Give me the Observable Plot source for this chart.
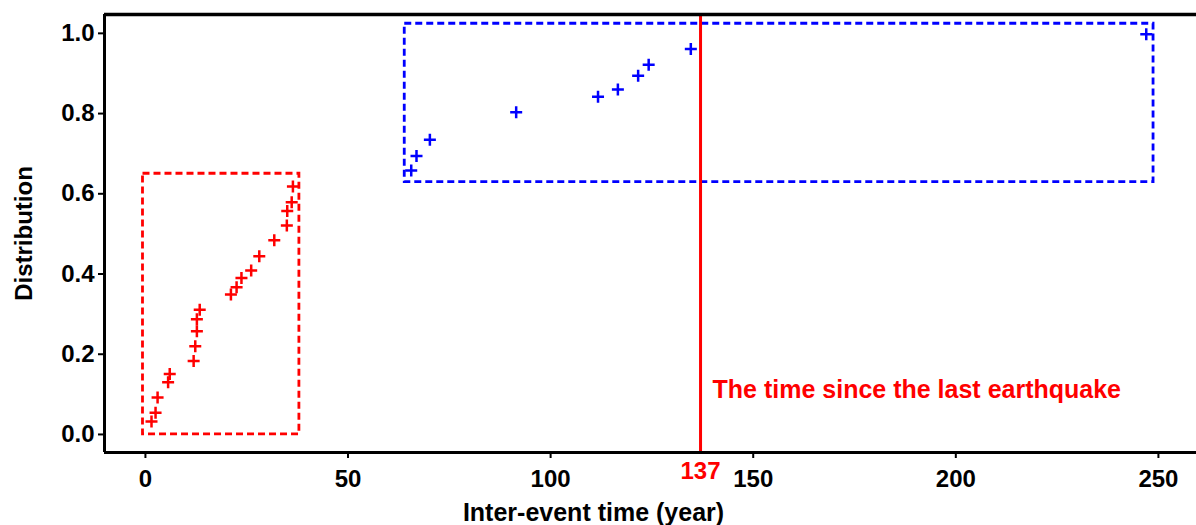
<!DOCTYPE html>
<html>
<head>
<meta charset="utf-8">
<script src="https://cdn.jsdelivr.net/npm/d3@7"></script>
<script src="https://cdn.jsdelivr.net/npm/@observablehq/plot@0.6"></script>
<style>
  html, body { margin: 0; padding: 0; background: #fff; }
</style>
</head>
<body>
<div id="chart"></div>
<script>
// ---- data ----
const redTime = [1.5, 2.5, 3.0, 5.6, 6.0, 11.9, 12.3, 12.7, 12.7, 13.4, 21.1, 22.5, 23.7, 26.1, 28.1, 31.8, 34.9, 35.0, 36.1, 36.4];
const redProb = [0.032, 0.054, 0.092, 0.130, 0.151, 0.183, 0.220, 0.257, 0.287, 0.311, 0.349, 0.367, 0.390, 0.409, 0.444, 0.484, 0.521, 0.557, 0.579, 0.618];
const blueTime = [65.6, 66.9, 70.2, 91.5, 111.7, 116.6, 121.6, 124.2, 134.6, 247.0];
const blueProb = [0.658, 0.694, 0.735, 0.803, 0.842, 0.860, 0.894, 0.922, 0.961, 0.998];
const redBox = {x1: -0.6, x2: 38.0, y1: 0.0, y2: 0.650};
const blueBox = {x1: 64.0, x2: 248.8, y1: 0.629, y2: 1.024};
const elapsed = [137];
const elapsedLabel = ["The time since the last earthquake"];
const xTitle = ["Inter-event time (year)"];
const yTitle = "Distribution";
const xTicks = [0, 50, 100, 150, 200, 250];
const yTicks = [0, 0.2, 0.4, 0.6, 0.8, 1.0];
const xDomain = [-10.1, 259.4];
const yDomain = [-0.045, 1.047];

const red = redTime.map((t, i) => ({t, p: redProb[i]}));
const blue = blueTime.map((t, i) => ({t, p: blueProb[i]}));

const plusSym = {
  draw(ctx, size) {
    const r = Math.sqrt(size / Math.PI);
    ctx.moveTo(-r, 0); ctx.lineTo(r, 0);
    ctx.moveTo(0, -r); ctx.lineTo(0, r);
  }
};

const font = "'Liberation Sans', Arial, sans-serif";

const chart = Plot.plot({
  width: 1196,
  height: 525,
  marginLeft: 104,
  marginRight: 0,
  marginTop: 14,
  marginBottom: 73,
  style: {fontFamily: font, fontSize: "25px", fontWeight: "bold", color: "#000", background: "#fff"},
  x: {domain: xDomain},
  y: {domain: yDomain},
  marks: [
    Plot.rect([redBox], {x1: "x1", x2: "x2", y1: "y1", y2: "y2", fill: "none", stroke: "#ff0000", strokeWidth: 2.8, strokeDasharray: "7,4"}),
    Plot.rect([blueBox], {x1: "x1", x2: "x2", y1: "y1", y2: "y2", fill: "none", stroke: "#0000ff", strokeWidth: 2.8, strokeDasharray: "7,4"}),
    Plot.ruleX(elapsed, {x: d => d, stroke: "#ff0000", strokeWidth: 3}),
    Plot.dot(red, {x: "t", y: "p", symbol: plusSym, r: 6, fill: "none", stroke: "#ff0000", strokeWidth: 2.5}),
    Plot.dot(blue, {x: "t", y: "p", symbol: plusSym, r: 6, fill: "none", stroke: "#0000ff", strokeWidth: 2.5}),
    Plot.text(elapsedLabel, {x: elapsed[0], y: 0.11, text: d => d, textAnchor: "start", dx: 12, fill: "#ff0000", fontSize: 25, fontWeight: "bold"}),
    Plot.text(elapsed, {x: d => d, text: d => String(d), frameAnchor: "bottom", lineAnchor: "top", dy: 9, fill: "#ff0000", fontSize: 24, fontWeight: "bold"}),
    // frame lines (top, left, bottom)
    Plot.ruleY([yDomain[1]], {stroke: "#000", strokeWidth: 3.5}),
    Plot.ruleY([yDomain[0]], {stroke: "#000", strokeWidth: 3}),
    Plot.ruleX([xDomain[0]], {stroke: "#000", strokeWidth: 3}),
    Plot.axisX({ticks: xTicks, tickSize: 6, tickPadding: 11, strokeWidth: 2, fontSize: 24, label: null}),
    Plot.text(xTitle, {text: d => d, frameAnchor: "bottom", lineAnchor: "middle", dx: -57, dy: 60, fontSize: 25, fontWeight: "bold", fill: "#000"}),
    Plot.axisY({ticks: yTicks, tickSize: 6, tickPadding: 4, strokeWidth: 2, fontSize: 24, tickFormat: d3.format(".1f"), label: yTitle, labelAnchor: "center", labelArrow: "none", labelOffset: 90})
  ]
});
document.getElementById("chart").appendChild(chart);
</script>
</body>
</html>
